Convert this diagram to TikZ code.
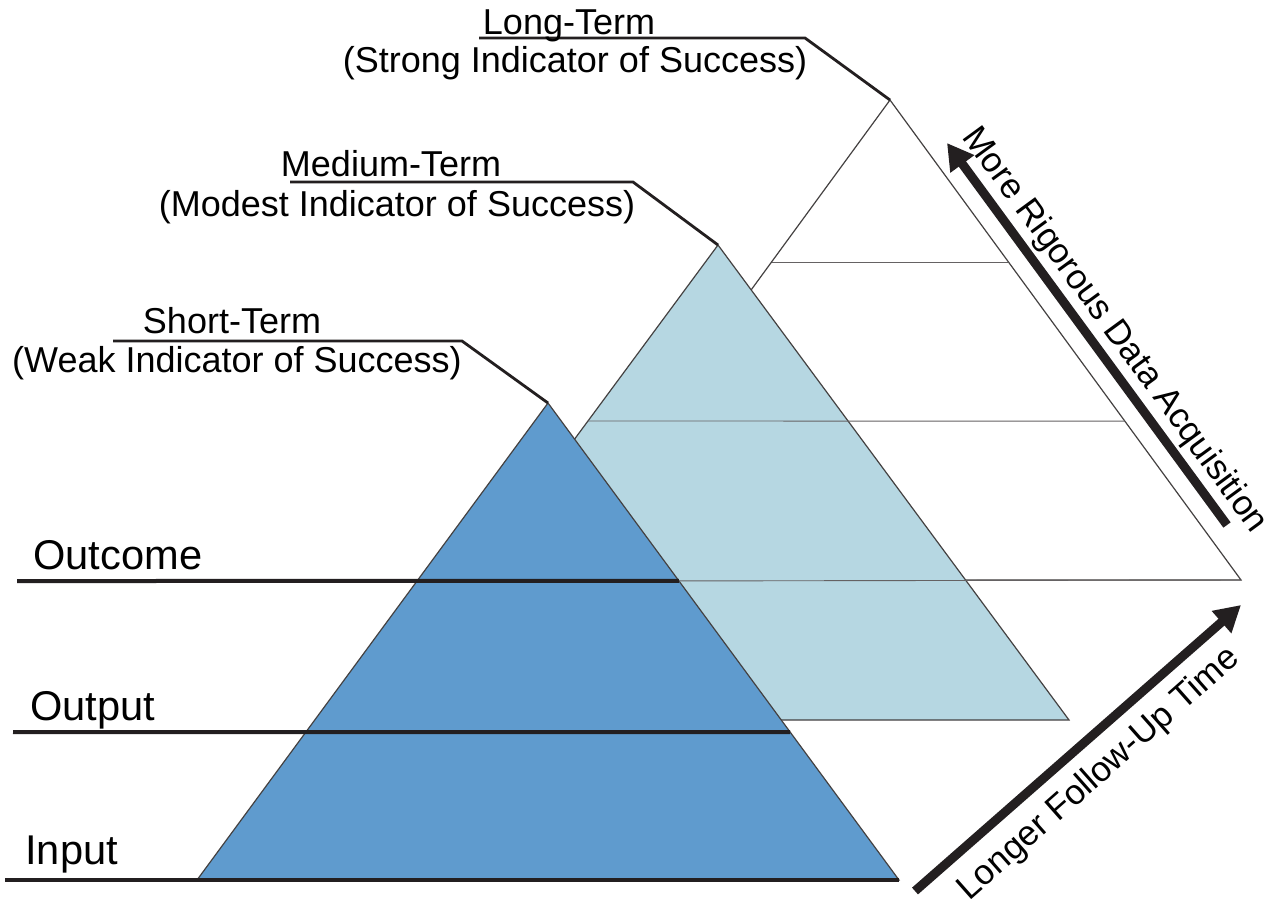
\documentclass[tikz,border=0pt]{standalone}
\usepackage{fontspec}
\setmainfont{Liberation Sans}
\usetikzlibrary{arrows.meta,calc}
\definecolor{frontblue}{RGB}{95,155,206}
\definecolor{midblue}{RGB}{182,215,226}
\definecolor{inkline}{RGB}{35,31,32}

\begin{document}
\begin{tikzpicture}[x=0.5pt,y=-0.5pt,
  tri/.style={draw=inkline!85,line width=0.6pt,line join=miter},
  band/.style={draw=inkline!70,line width=0.45pt},
  level/.style={draw=inkline,line width=2pt},
  leader/.style={draw=inkline,line width=1.4pt},
  lbl/.style={font=\fontsize{18}{20}\selectfont,inner sep=0pt,anchor=base},
  tilted/.style={font=\fontsize{17.5}{20}\selectfont,inner sep=0pt,anchor=base},
  lvl/.style={font=\fontsize{20.8}{24}\selectfont,inner sep=0pt,anchor=base west},
  bigarrow/.style={draw=inkline,line width=4.5pt,-{Triangle[length=13pt,width=14pt]}}]
  \useasboundingbox (0,0) rectangle (1267,901);
  % three pyramids, back to front
  \foreach \n/\ax/\ay/\by/\c in {l/890/100/580/white,m/718/245/720/midblue,s/548/403/880/frontblue}{
    \coordinate (\n Apex) at (\ax,\ay);
    \coordinate (\n Left) at ({\ax-351},\by);
    \coordinate (\n Right) at ({\ax+351},\by);
    \filldraw[tri,fill=\c] (\n Apex) -- (\n Left) -- (\n Right) -- cycle;
  }
  \coordinate (outcomeR) at ($(sApex)!0.373!(sRight)$);
  \coordinate (outputR) at ($(sApex)!0.690!(sRight)$);
  % bands of the back pyramids
  \draw[band] ($(lApex)!0.3375!(lLeft)$) -- ($(lApex)!0.3375!(lRight)$);
  \draw[band] ($(mApex)!0.3705!(mLeft)$) -- ($(lApex)!0.669!(lRight)$);
  \draw[band] (outcomeR) -- (lRight);
  % levels
  \coordinate (outcomeL) at (17,581);
  \coordinate (outputL) at (13,732);
  \coordinate (inputL) at (5,880);
  \draw[level] (outcomeL) -- (outcomeR);
  \draw[level] (outputL) -- (outputR);
  \draw[level] (inputL) -- (sRight);
  \node[lvl] (outcome) at (33,569) {Outcome};
  \node[lvl] (output) at (30,720) {Output};
  \node[lvl] (input) at (25,864) {Input};
  % indicator labels
  \coordinate (lKnee) at (805,38);
  \coordinate (mKnee) at (633,182);
  \coordinate (sKnee) at (462,341);
  \draw[leader] (479,38) -- (lKnee) -- (lApex);
  \draw[leader] (290,182) -- (mKnee) -- (mApex);
  \draw[leader] (113,341) -- (sKnee) -- (sApex);
  \node[lbl] (longT) at (569,34) {Long-Term};
  \node[lbl] (longS) at (575,72) {(Strong Indicator of Success)};
  \node[lbl] (medT) at (391,176) {Medium-Term};
  \node[lbl] (medS) at (397,216) {(Modest Indicator of Success)};
  \node[lbl] (shortT) at (232,333) {Short-Term};
  \node[lbl] (shortS) at (237,372) {(Weak Indicator of Success)};
  % arrows
  \coordinate (rigTail) at (1227,525);
  \coordinate (rigTip) at (947,143);
  \coordinate (timeTail) at (915,891);
  \coordinate (timeTip) at (1241,605);
  \draw[bigarrow] (rigTail) -- (rigTip);
  \draw[bigarrow] (timeTail) -- (timeTip);
  \node[tilted,rotate=-53.8] (rigor) at (1107,336) {More Rigorous Data Acquisition};
  \node[tilted,rotate=41.5] (time) at (1105,781) {Longer Follow-Up Time};
\end{tikzpicture}
\end{document}
